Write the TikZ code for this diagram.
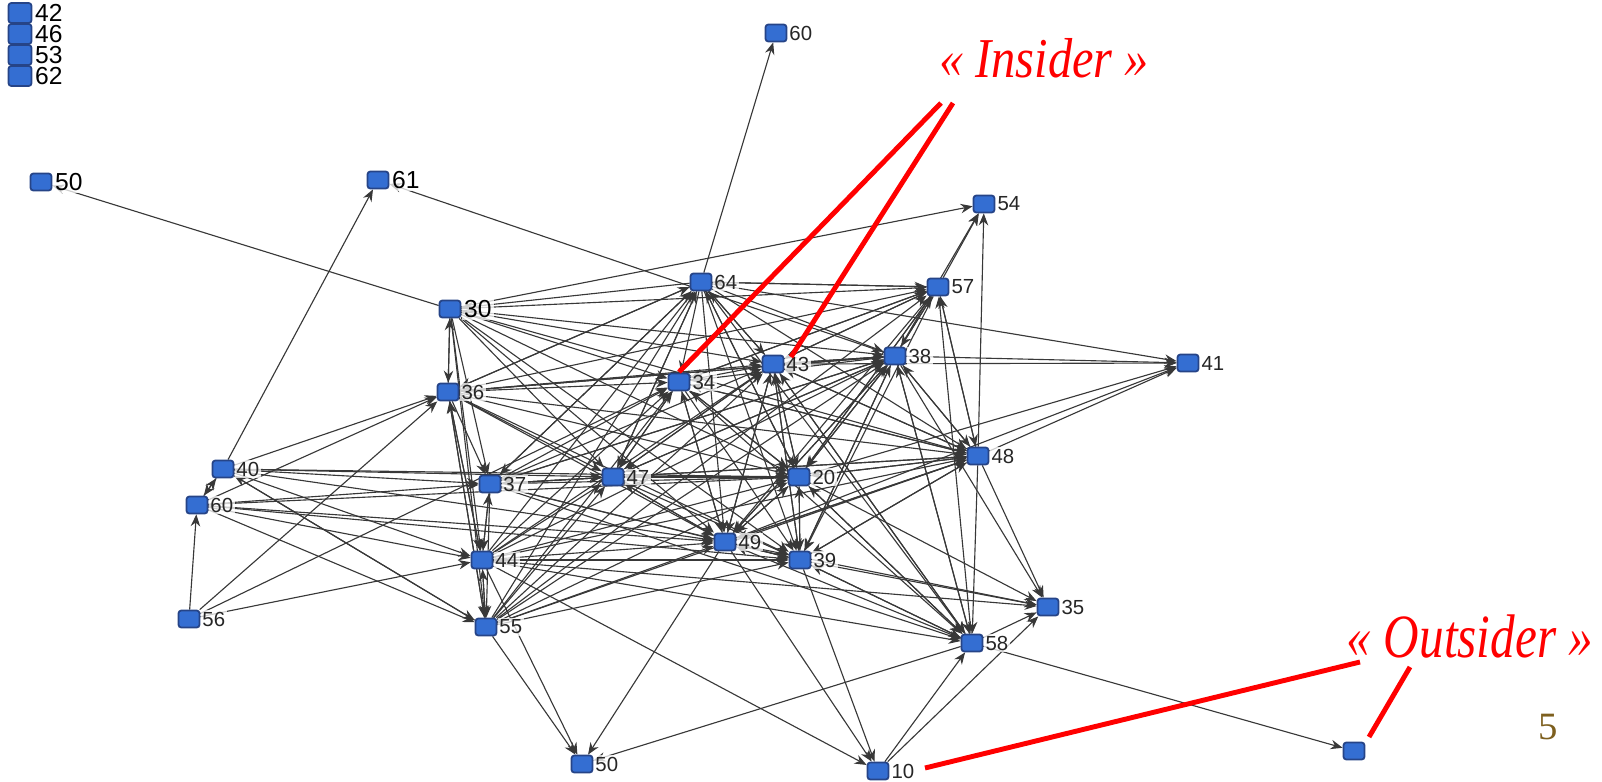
\documentclass[tikz,border=0pt]{standalone}
\usepackage{fontspec}
\setmainfont{Liberation Serif}
\newfontfamily\lblfont{Liberation Sans}
\usetikzlibrary{arrows.meta,backgrounds}
\definecolor{nodeblue}{RGB}{52,110,210}
\definecolor{nodeedge}{RGB}{38,68,135}
\definecolor{pagenum}{RGB}{125,95,30}
\tikzset{
 sq/.style={draw=nodeedge,fill=nodeblue,line width=0.5pt,rounded corners=0.8pt,minimum width=0.21cm,minimum height=0.17cm,inner sep=0pt},
 stk/.style={sq,minimum width=0.23cm,minimum height=0.2cm},
 lbl/.style={font=\lblfont\fontsize{5.8}{6}\selectfont,inner sep=0.4pt,text=black!85,fill=white,fill opacity=0.75,text opacity=1},
 blbl/.style={font=\lblfont\fontsize{7}{7}\selectfont,inner sep=0.6pt,text=black,fill=white,fill opacity=0.75,text opacity=1},
 edge/.style={draw=black!78,line width=0.32pt,-{Stealth[length=3.4pt,width=2.7pt]}},
 redline/.style={draw=red,line width=1.4pt},
 ann/.style={text=red,inner sep=0pt}
}
\begin{document}
\begin{tikzpicture}[x=0.01cm,y=-0.01cm]
\useasboundingbox (0,0) rectangle (1602,781);
% isolated stack
\node[stk,label={[blbl]east:42}] (n42) at (20,13) {};
\node[stk,label={[blbl]east:46}] (n46) at (20,34) {};
\node[stk,label={[blbl]east:53}] (n53) at (20,55) {};
\node[stk,label={[blbl]east:62}] (n62) at (20,76) {};
% nodes
\node[sq,label={[blbl]east:50}] (a50) at (41,182) {};
\node[sq,label={[blbl]east:61}] (n61) at (378,180) {};
\node[sq,label={[lbl]east:60}] (t60) at (776,33) {};
\node[sq,label={[lbl]east:54}] (n54) at (984,204) {};
\node[sq,label={[lbl]east:64}] (n64) at (701,282) {};
\node[sq,label={[lbl]east:57}] (n57) at (938,287) {};
\node[sq,label={[blbl]east:30}] (n30) at (450,309) {};
\node[sq,label={[lbl]east:43}] (n43) at (773,364) {};
\node[sq,label={[lbl]east:38}] (n38) at (895,356) {};
\node[sq,label={[lbl]east:41}] (n41) at (1188,363) {};
\node[sq,label={[lbl]east:34}] (n34) at (679,382) {};
\node[sq,label={[lbl]east:36}] (n36) at (448,392) {};
\node[sq,label={[lbl]east:48}] (n48) at (978,456) {};
\node[sq,label={[lbl]east:40}] (n40) at (223,469) {};
\node[sq,label={[lbl]east:60}] (l60) at (197,505) {};
\node[sq,label={[lbl]east:37}] (n37) at (490,484) {};
\node[sq,label={[lbl]east:47}] (n47) at (613,477) {};
\node[sq,label={[lbl]east:20}] (n20) at (799,477) {};
\node[sq,label={[lbl]east:49}] (n49) at (725,542) {};
\node[sq,label={[lbl]east:39}] (n39) at (800,560) {};
\node[sq,label={[lbl]east:44}] (n44) at (482,560) {};
\node[sq,label={[lbl]east:56}] (n56) at (189,619) {};
\node[sq,label={[lbl]east:55}] (n55) at (486,627) {};
\node[sq,label={[lbl]east:35}] (n35) at (1048,607) {};
\node[sq,label={[lbl]east:58}] (n58) at (972,643) {};
\node[sq,label={[lbl]east:50}] (b50) at (582,764) {};
\node[sq,label={[lbl]east:10}] (n10) at (878,771) {};
\node[sq] (out) at (1354,751) {};
% edges
\begin{pgfonlayer}{background}
\foreach \a/\b in {n30/a50,n40/n61,n38/n61,n64/t60,n30/n54,n57/n54,n38/n54,n48/n54,
 n64/n41,n38/n41,n43/n41,n48/n41,n20/n41,n49/n41,n48/n57,n57/n48,n48/n58,
 n56/l60,n56/n36,n56/n44,n56/n34,l60/n40,n40/l60,
 n40/n37,n40/n44,n40/n55,n40/n36,n40/n47,n40/n20,n40/n49,
 l60/n37,l60/n44,l60/n55,l60/n49,l60/n39,l60/n36,l60/n20,n55/n40,
 n30/n36,n36/n30,n36/n44,n44/n36,n36/n37,n36/n55,n55/n36,n37/n44,n44/n37,n44/n55,n55/n44,n37/n55,n30/n44,n30/n37,n30/n55,
 n44/b50,n55/b50,n49/b50,n58/b50,n49/n10,n39/n10,n44/n10,n10/n35,n10/n58,n58/n35,n58/out,
 n48/n35,n38/n35,n20/n35,n39/n35,n49/n35,n44/n35,
 n30/n34,n30/n47,n30/n20,n30/n49,n30/n39,n30/n43,n30/n38,n30/n48,n30/n57,
 n36/n34,n36/n47,n36/n20,n36/n49,n36/n39,n36/n43,n36/n38,n36/n64,n36/n57,n36/n48,
 n37/n47,n37/n20,n37/n49,n37/n34,n37/n64,n37/n43,n37/n38,n37/n48,n37/n39,n37/n58,
 n44/n47,n44/n20,n44/n49,n44/n39,n44/n34,n44/n64,n44/n43,n44/n38,n44/n48,n44/n58,
 n55/n47,n55/n20,n55/n49,n55/n39,n55/n34,n55/n64,n55/n43,n55/n38,n55/n48,n55/n57,
 n34/n47,n34/n20,n34/n49,n34/n39,n34/n43,n34/n48,n34/n58,n34/n57,
 n47/n20,n47/n49,n47/n39,n47/n43,n47/n64,n47/n37,n47/n38,n47/n34,
 n64/n34,n64/n47,n64/n20,n64/n49,n64/n39,n64/n43,n64/n38,n64/n57,n64/n48,n64/n58,n64/n36,n64/n30,n64/n37,
 n43/n20,n43/n49,n43/n39,n43/n38,n43/n48,n43/n57,n43/n47,n43/n64,n43/n58,
 n38/n20,n38/n49,n38/n39,n38/n43,n38/n48,n38/n57,n38/n47,n38/n34,n38/n37,n38/n36,n38/n58,
 n57/n20,n57/n49,n57/n43,n57/n38,n57/n34,n57/n64,n57/n39,
 n20/n49,n20/n39,n20/n48,n20/n43,n20/n47,n20/n34,n20/n38,n20/n57,n20/n64,n20/n58,
 n49/n39,n49/n20,n49/n48,n49/n47,n49/n43,n49/n38,n49/n34,
 n39/n20,n39/n49,n39/n48,n39/n43,n39/n38,n39/n58,
 n48/n20,n48/n49,n48/n39,n48/n43,n48/n38,n48/n47,n48/n34,
 n58/n39,n58/n20,n58/n49,n58/n43,n58/n38,n58/n57}
 \draw[edge] (\a) -- (\b);
\end{pgfonlayer}
% annotations
\node[ann,font=\itshape\fontsize{16}{16}\selectfont] (ins) at (1044,58) {\scalebox{0.86}[1]{« Insider »}};
\node[ann,font=\itshape\fontsize{17.5}{18}\selectfont] (outs) at (1470,636) {\scalebox{0.8}[1]{« Outsider »}};
\node[text=pagenum,font=\fontsize{11}{11}\selectfont,inner sep=0pt] (pg) at (1548,727) {5};
\coordinate (i1) at (941,103);
\coordinate (i2) at (953,103);
\coordinate (i1e) at (679,372);
\coordinate (i2e) at (791,357);
\coordinate (o1) at (1360,662);
\coordinate (o2) at (1410,667);
\coordinate (o1e) at (925,768);
\coordinate (o2e) at (1369,737);
\draw[redline] (i1) -- (i1e);
\draw[redline] (i2) -- (i2e);
\draw[redline] (o1) -- (o1e);
\draw[redline] (o2) -- (o2e);
\end{tikzpicture}
\end{document}
